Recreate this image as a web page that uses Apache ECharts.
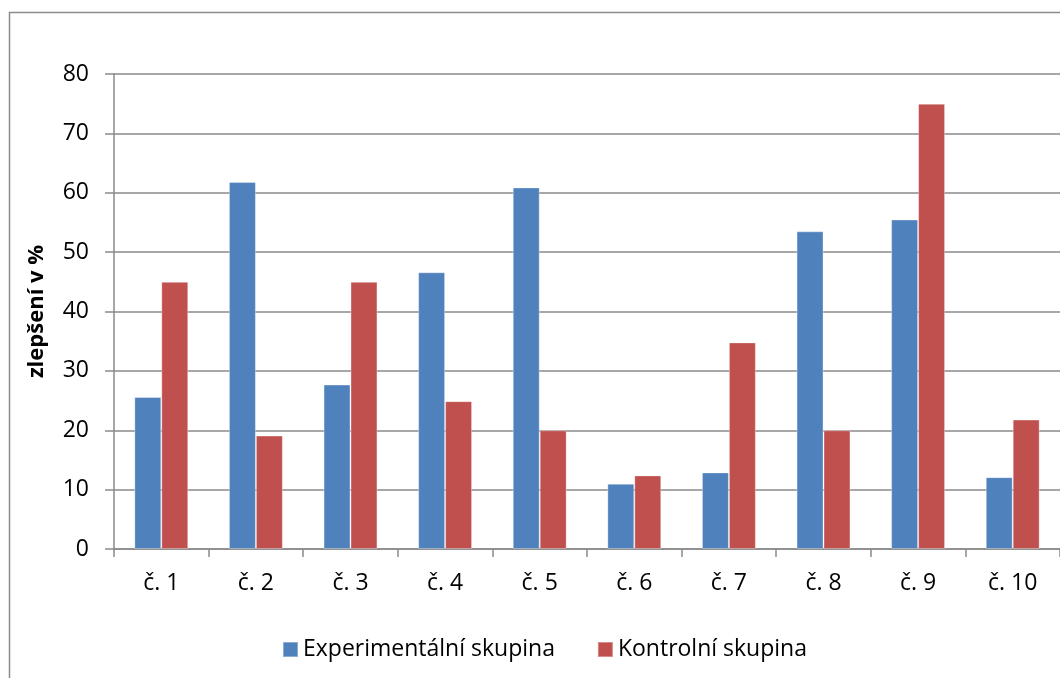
<!DOCTYPE html>
<html><head><meta charset="utf-8">
<script src="https://cdn.jsdelivr.net/npm/echarts@6/dist/echarts.min.js"></script>
<style>html,body{margin:0;padding:0;background:#fff}#c{width:1060px;height:678px}</style>
</head><body><div id="c"></div>
<script>
const categories = ['č. 1','č. 2','č. 3','č. 4','č. 5','č. 6','č. 7','č. 8','č. 9','č. 10'];
const experimental = [25.6, 61.8, 27.7, 46.6, 60.9, 11.0, 12.9, 53.5, 55.5, 12.1];
const control = [45, 19.1, 45, 24.9, 20, 12.4, 34.8, 20, 75, 21.8];
const seriesNames = ['Experimentální skupina','Kontrolní skupina'];
const yAxisTitle = 'zlepšení v %';

const FONT = '"Open Sans", sans-serif';
const axisGray = '#8a8a8a';
const chart = echarts.init(document.getElementById('c'));
chart.setOption({
  animation: false,
  textStyle: {fontFamily: FONT, color: '#000'},
  graphic: [{type:'rect', shape:{x:9.5,y:12.5,width:1100,height:700}, style:{fill:'none', stroke:'#8c8c8c', lineWidth:1.5}, z:-1}],
  grid: {left: 114, top: 74, width: 950, height: 475, containLabel: false},
  legend: {
    data: seriesNames, bottom: 12, left: 277,
    itemWidth: 15, itemHeight: 15, itemGap: 42,
    icon: 'rect',
    textStyle: {fontFamily: FONT, fontSize: 23, color: '#000'}
  },
  xAxis: {
    type: 'category', data: categories,
    axisLine: {lineStyle: {color: axisGray, width: 1.5}},
    axisTick: {show: true, length: 8, lineStyle: {color: axisGray, width: 1.5}},
    axisLabel: {fontFamily: FONT, fontSize: 23, color: '#000', margin: 23}
  },
  yAxis: {
    type: 'value', min: 0, max: 80, interval: 10,
    name: yAxisTitle, nameLocation: 'middle', nameGap: 66, nameRotate: 90,
    nameTextStyle: {fontFamily: FONT, fontSize: 22, fontWeight: 'bold', color: '#000'},
    axisLine: {show: true, lineStyle: {color: axisGray, width: 1.5}},
    axisTick: {show: true, length: 9, lineStyle: {color: axisGray, width: 1.5}},
    axisLabel: {fontFamily: FONT, fontSize: 23, color: '#000', margin: 25},
    splitLine: {lineStyle: {color: axisGray, width: 1.5}}
  },
  series: [
    {name: seriesNames[0], type: 'bar', data: experimental, barGap: '0%', barCategoryGap: '43%',
     itemStyle: {color: '#4F81BD', borderColor: 'rgba(255,255,255,0.35)', borderWidth: 1}},
    {name: seriesNames[1], type: 'bar', data: control, barGap: '0%', barCategoryGap: '43%',
     itemStyle: {color: '#C0504D', borderColor: 'rgba(255,255,255,0.35)', borderWidth: 1}}
  ]
});
</script></body></html>
